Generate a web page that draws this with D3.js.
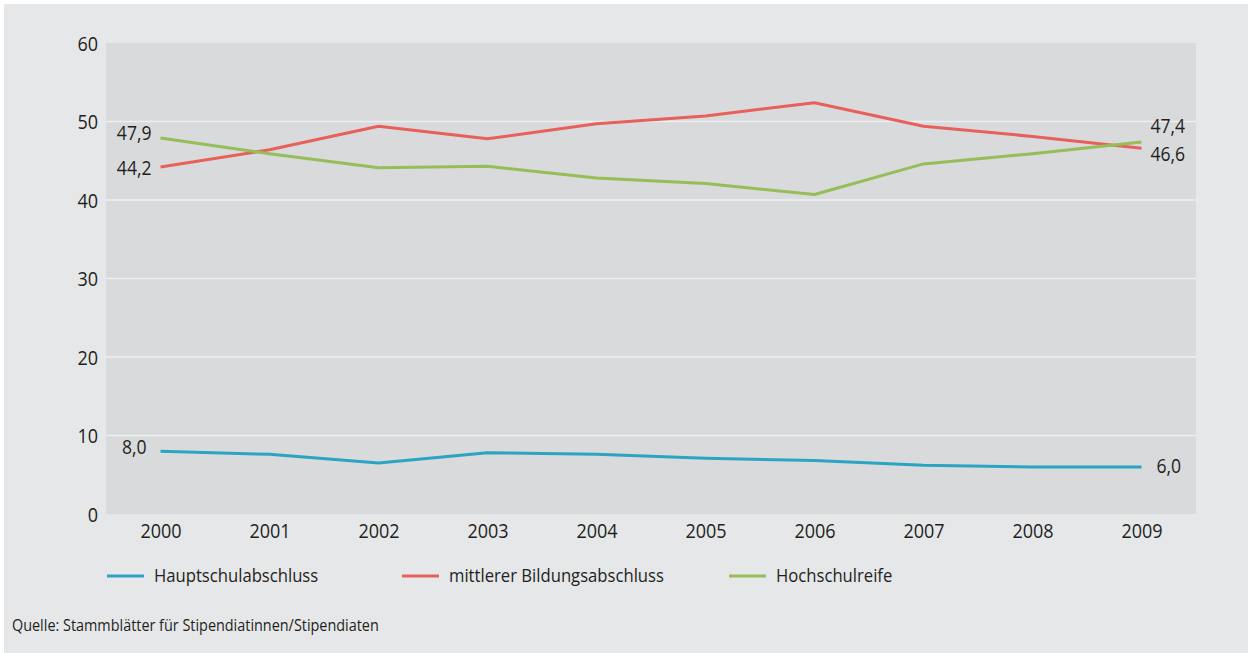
<!DOCTYPE html>
<html>
<head>
<meta charset="utf-8">
<script src="https://cdn.jsdelivr.net/npm/d3@7"></script>
<style>
  html, body { margin: 0; padding: 0; background: #ffffff; }
  svg { display: block; }
  text { font-family: "Open Sans", "DejaVu Sans", sans-serif; fill: #231f20; }
</style>
</head>
<body>
<svg id="chart" width="1248" height="653"></svg>
<script>
// Anteil der Stipendiatinnen und Stipendiaten nach Schulabschluss (in %)
const years = ["2000", "2001", "2002", "2003", "2004", "2005", "2006", "2007", "2008", "2009"];
const hauptschule = [8.0, 7.6, 6.5, 7.8, 7.6, 7.1, 6.8, 6.2, 6.0, 6.0];
const mittlerer   = [44.2, 46.4, 49.4, 47.8, 49.7, 50.7, 52.4, 49.4, 48.1, 46.6];
const hochschul   = [47.9, 45.9, 44.1, 44.3, 42.8, 42.1, 40.7, 44.6, 45.9, 47.4];
const yTicks = [0, 10, 20, 30, 40, 50, 60];
const seriesNames = ["Hauptschulabschluss", "mittlerer Bildungsabschluss", "Hochschulreife"];
const sourceText = "Quelle: Stammblätter für Stipendiatinnen/Stipendiaten";

const colors = ["#2ba3c3", "#e8605a", "#95bd58"];
const seriesValues = [hauptschule, mittlerer, hochschul];

const svg = d3.select("#chart");

// panel background
svg.append("rect").attr("x", 4).attr("y", 4).attr("width", 1244).attr("height", 649).attr("fill", "#e6e7e9");

const plot = { left: 106, right: 1196, top: 43, bottom: 514 };

svg.append("rect")
  .attr("x", plot.left).attr("y", plot.top)
  .attr("width", plot.right - plot.left).attr("height", plot.bottom - plot.top)
  .attr("fill", "#d9dadc");

const x = d3.scalePoint().domain(years).range([plot.left, plot.right]).padding(0.5);
const y = d3.scaleLinear().domain([0, 60]).range([plot.bottom, plot.top]);

// horizontal gridlines
svg.append("g").selectAll("line")
  .data(yTicks.filter(t => t > 0 && t < 60))
  .join("line")
  .attr("x1", plot.left).attr("x2", plot.right)
  .attr("y1", d => y(d)).attr("y2", d => y(d))
  .attr("stroke", "#eeeff0").attr("stroke-width", 1.5);

// y axis labels
const yAxis = d3.axisLeft(y).tickValues(yTicks).tickSize(0).tickPadding(0).tickFormat(d3.format("d"));
const gy = svg.append("g").attr("transform", `translate(${plot.left - 8},0)`).call(yAxis);
gy.select(".domain").remove();
gy.selectAll("text").attr("font-size", 20).attr("dy", "0.35em").style("fill", "#231f20")
  .style("font-family", "\"Open Sans\", sans-serif");

// x axis labels
const xAxis = d3.axisBottom(x).tickSize(0).tickPadding(0);
const gx = svg.append("g").attr("transform", `translate(0,${plot.bottom + 17})`).call(xAxis);
gx.select(".domain").remove();
gx.selectAll("text").attr("font-size", 20).attr("dy", "0.35em").attr("y", 0).style("fill", "#231f20")
  .style("font-family", "\"Open Sans\", sans-serif");

// lines
const line = d3.line().x((d, i) => x(years[i])).y(d => y(d));
seriesValues.forEach((vals, k) => {
  svg.append("path")
    .datum(vals)
    .attr("d", line)
    .attr("fill", "none")
    .attr("stroke", colors[k])
    .attr("stroke-width", 3)
    .attr("stroke-linejoin", "round");
});

// end value labels
const fmt = v => d3.format(".1f")(v).replace(".", ",");
const first = years[0], last = years[years.length - 1];
const endLabels = [
  { v: hochschul[0], yr: first, side: "left", dy: -5 },
  { v: mittlerer[0], yr: first, side: "left", dy: 1 },
  { v: hauptschule[0], yr: first, side: "left", dy: -4, dx: -5 },
  { v: hochschul[9], yr: last, side: "right", dy: -16 },
  { v: mittlerer[9], yr: last, side: "right", dy: 6 },
  { v: hauptschule[9], yr: last, side: "right", dy: -1, dx: 6 }
];
svg.append("g").selectAll("text")
  .data(endLabels)
  .join("text")
  .attr("x", d => x(d.yr) + (d.side === "left" ? -9 : 9) + (d.dx || 0))
  .attr("y", d => y(d.v) + d.dy)
  .attr("dy", "0.35em")
  .attr("text-anchor", d => d.side === "left" ? "end" : "start")
  .attr("font-size", 19.5)
  .text(d => fmt(d.v));

// legend
const legendX = [107, 402, 729];
const legend = svg.append("g").selectAll("g")
  .data(seriesNames)
  .join("g")
  .attr("transform", (d, i) => `translate(${legendX[i]},576)`);
legend.append("line")
  .attr("x1", 0).attr("x2", 37).attr("y1", 0).attr("y2", 0)
  .attr("stroke", (d, i) => colors[i]).attr("stroke-width", 3);
legend.append("text")
  .attr("x", 47).attr("dy", "0.35em")
  .attr("font-size", 18.5)
  .text(d => d);

// source
svg.append("text")
  .attr("x", 12).attr("y", 625).attr("dy", "0.35em")
  .attr("font-size", 16)
  .text(sourceText);

// condensed lettering: squeeze every label horizontally
svg.selectAll("text").each(function () {
  const len = this.getComputedTextLength();
  if (len > 0) {
    d3.select(this).attr("textLength", len * 0.9).attr("lengthAdjust", "spacingAndGlyphs");
  }
});
</script>
</body>
</html>
